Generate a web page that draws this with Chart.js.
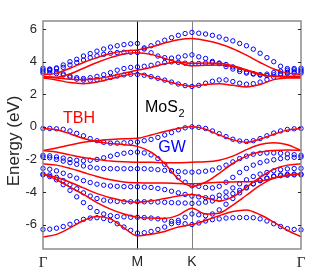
<!DOCTYPE html>
<html><head><meta charset="utf-8">
<script src="https://cdn.jsdelivr.net/npm/chart.js@4/dist/chart.umd.min.js"></script>
<style>html,body{margin:0;padding:0;background:#fff}#c{display:block}</style>
</head><body>
<canvas id="c" width="332" height="280"></canvas>
<script>
// k-path nodes (Γ-M-K-Γ, hexagonal BZ lengths) and their labels
const kNodes = [0, 0.5774, 0.9107, 1.5774];
const nodeLabels = ['Γ', 'M', 'K', 'Γ'];
const yTicks = [-6, -4, -2, 0, 2, 4, 6];
// number of k intervals per segment
const gwSteps = [14, 8, 16];
const tbSteps = [7, 4, 8];

// GW quasiparticle bands (eV), sampled on the GW k grid
const gwC1 = [3.3,3.32,3.27,3.18,3.05,2.93,2.87,2.86,2.89,2.95,3.03,3.12,3.19,3.23,3.22, 3.17,3.08,2.98,2.87,2.75,2.63,2.53,2.48, 2.55,2.68,2.8,2.88,2.88,2.78,2.68,2.62,2.65,2.75,2.9,3.05,3.2,3.28,3.3,3.3];
const gwC2 = [3.4,3.45,3.38,3.25,3.12,3.02,2.97,3.02,3.1,3.2,3.33,3.48,3.58,3.65,3.68, 3.72,3.78,3.87,3.95,3.99,3.96,3.91,3.88, 3.89,3.92,3.95,3.92,3.83,3.68,3.52,3.37,3.27,3.18,3.15,3.2,3.28,3.35,3.38,3.4];
const gwC3 = [3.5,3.52,3.57,3.65,3.8,3.95,4.1,4.25,4.36,4.45,4.52,4.56,4.58,4.58,4.57, 4.78,4.98,5.15,5.32,5.48,5.62,5.73,5.8, 5.75,5.7,5.62,5.52,5.38,5.28,5.12,4.98,4.77,4.52,4.25,4.0,3.72,3.58,3.58,3.6];
const gwC4 = [3.6,3.55,3.62,3.8,4.0,4.15,4.35,4.5,4.65,4.78,4.9,4.98,5.05,5.1,5.12, 4.85,4.55,4.35,4.25,4.22,4.28,4.36,4.42, 4.3,4.2,4.02,3.88,3.7,3.55,3.4,3.3,3.24,3.2,3.24,3.33,3.42,3.48,3.5,3.5];
const gwV1 = [-0.1,-0.1,-0.12,-0.15,-0.25,-0.4,-0.55,-0.72,-0.85,-0.95,-1.0,-1.0,-0.98,-0.95,-0.93, -0.85,-0.77,-0.65,-0.5,-0.35,-0.18,-0.06,0.0, -0.03,-0.1,-0.25,-0.42,-0.6,-0.76,-0.87,-0.9,-0.85,-0.72,-0.55,-0.38,-0.25,-0.16,-0.12,-0.1];
const gwV2 = [-1.75,-1.78,-1.85,-1.92,-2.0,-2.05,-2.08,-2.05,-2.0,-1.9,-1.8,-1.7,-1.62,-1.57,-1.55, -1.6,-1.72,-1.95,-2.3,-2.7,-3.1,-3.4,-3.62, -3.65,-3.72,-3.75,-3.65,-3.4,-3.1,-2.8,-2.55,-2.35,-2.2,-2.1,-2.02,-1.95,-1.9,-1.87,-1.85];
const gwV3 = [-1.85,-1.9,-2.0,-2.1,-2.2,-2.3,-2.4,-2.48,-2.53,-2.56,-2.57,-2.57,-2.57,-2.57,-2.57, -2.57,-2.6,-2.63,-2.67,-2.7,-2.74,-2.77,-2.78, -2.76,-2.72,-2.65,-2.52,-2.35,-2.15,-1.95,-1.8,-1.68,-1.62,-1.6,-1.6,-1.62,-1.66,-1.71,-1.75];
const gwV4 = [-2.55,-2.6,-2.7,-2.85,-3.0,-3.15,-3.3,-3.42,-3.52,-3.58,-3.63,-3.65,-3.67,-3.68,-3.68, -3.7,-3.72,-3.78,-3.85,-3.95,-4.05,-4.15,-4.25, -4.3,-4.35,-4.32,-4.2,-4.0,-3.75,-3.5,-3.25,-3.05,-2.9,-2.8,-2.7,-2.63,-2.58,-2.56,-2.55];
const gwV5 = [-2.9,-2.95,-3.1,-3.3,-3.55,-3.8,-4.05,-4.25,-4.4,-4.5,-4.55,-4.58,-4.6,-4.6,-4.6, -4.6,-4.6,-4.62,-4.63,-4.65,-4.67,-4.68,-4.7, -4.68,-4.62,-4.55,-4.45,-4.3,-4.1,-3.9,-3.7,-3.5,-3.3,-3.15,-3.02,-2.95,-2.92,-2.9,-2.9];
const gwV6 = [-2.95,-3.05,-3.25,-3.55,-3.9,-4.3,-4.65,-4.95,-5.2,-5.35,-5.45,-5.5,-5.53,-5.55,-5.55, -5.57,-5.6,-5.65,-5.72,-5.8,-5.88,-5.95,-6.0, -5.9,-5.78,-5.7,-5.65,-5.6,-5.58,-5.57,-5.57,-5.58,-5.65,-5.78,-5.95,-6.12,-6.25,-6.3,-6.32];
const gwV7 = [-6.3,-6.28,-6.22,-6.12,-5.98,-5.82,-5.68,-5.6,-5.58,-5.63,-5.75,-5.95,-6.15,-6.35,-6.52, -6.5,-6.42,-6.3,-6.15,-5.95,-5.75,-5.55,-5.35, -5.4,-5.45,-5.35,-5.1,-4.75,-4.4,-4.05,-3.75,-3.5,-3.3,-3.15,-3.05,-3.0,-2.97,-2.95,-2.95];

// tight-binding (TBH) bands (eV), sampled on the coarser TB k grid
const tbC1 = [3.0,2.88,2.72,2.65,2.75,2.95,3.15,3.27, 3.08,2.85,2.62,2.49, 2.6,2.65,2.55,2.45,2.6,2.9,3.0,3.0];
const tbC2 = [3.05,3.0,2.92,2.9,2.95,3.1,3.3,3.48, 3.65,3.88,3.98,3.9, 3.92,3.9,3.75,3.5,3.25,3.1,3.05,3.05];
const tbC3 = [3.1,3.05,3.25,3.6,3.95,4.25,4.48,4.55, 4.45,4.2,3.95,3.75, 3.78,3.8,3.7,3.45,3.2,3.12,3.1,3.1];
const tbC4 = [3.2,3.3,3.6,3.95,4.25,4.5,4.65,4.72, 4.9,5.15,5.35,5.43, 5.3,5.1,4.8,4.4,3.95,3.55,3.3,3.22];
const tbV1 = [-0.1,-0.18,-0.42,-0.72,-0.92,-1.02,-1.1,-1.2, -1.55,-2.25,-3.2,-3.65, -3.4,-2.85,-2.25,-1.8,-1.55,-1.45,-1.42,-1.45];
const tbV2 = [-1.45,-1.3,-1.12,-0.95,-0.85,-0.78,-0.73,-0.7, -0.5,-0.28,-0.1,0.0, -0.15,-0.5,-0.8,-0.95,-0.75,-0.45,-0.2,-0.1];
const tbV3 = [-1.45,-1.55,-1.72,-1.88,-2.0,-2.1,-2.15,-2.17, -2.18,-2.2,-2.2,-2.17, -2.15,-2.05,-1.8,-1.4,-1.08,-0.98,-1.1,-1.45];
const tbV4 = [-2.27,-2.35,-2.55,-2.8,-3.05,-3.25,-3.38,-3.43, -3.45,-3.45,-3.48,-3.5, -3.45,-3.4,-3.38,-3.37,-3.33,-3.15,-2.98,-2.9];
const tbV5 = [-2.9,-3.1,-3.4,-3.75,-4.1,-4.35,-4.55,-4.63, -4.55,-4.4,-4.25,-4.15, -4.35,-4.55,-4.3,-3.7,-3.1,-2.6,-2.35,-2.27];
const tbV6 = [-2.9,-3.25,-3.7,-4.15,-4.65,-5.05,-5.35,-5.55, -5.6,-5.62,-5.42,-5.0, -5.35,-5.3,-4.8,-4.2,-3.6,-3.15,-2.95,-2.9];
const tbV7 = [-6.76,-6.6,-6.2,-5.75,-5.5,-5.65,-6.2,-6.7, -6.6,-6.42,-6.15,-6.0, -5.75,-5.45,-5.2,-5.1,-5.4,-5.85,-6.35,-6.75];

const gwBands = [gwC1,gwC2,gwC3,gwC4,gwV1,gwV2,gwV3,gwV4,gwV5,gwV6,gwV7];
const tbBands = [tbC1,tbC2,tbC3,tbC4,tbV1,tbV2,tbV3,tbV4,tbV5,tbV6,tbV7];

// uniform k grid along each path segment
function kGrid(steps) {
  const k = [kNodes[0]];
  for (let s = 0; s < steps.length; s++) {
    const a = kNodes[s], b = kNodes[s + 1];
    for (let i = 1; i <= steps[s]; i++) k.push(a + (b - a) * i / steps[s]);
  }
  return k;
}
const kGW = kGrid(gwSteps);
const kTB = kGrid(tbSteps);

const RED = '#ff0000', BLUE = '#0000ff';
const datasets = [];
tbBands.forEach(b => datasets.push({
  data: b.map((v, i) => ({x: kTB[i], y: v})),
  showLine: true, borderColor: RED, borderWidth: 1.5, pointRadius: 0,
  cubicInterpolationMode: 'monotone', fill: false
}));
gwBands.forEach(b => datasets.push({
  data: b.map((v, i) => ({x: kGW[i], y: v})),
  showLine: false, pointRadius: 2.2, pointStyle: 'circle',
  borderColor: BLUE, borderWidth: 1, backgroundColor: 'rgba(0,0,0,0)', clip: 4
}));

const SANS = '"Liberation Sans", Arial, sans-serif';
const frame = {
  id: 'frame',
  beforeDatasetsDraw(c) {
    const {ctx, chartArea: a, scales: {x}} = c;
    ctx.save();
    ctx.lineWidth = 1;
    const xm = Math.round(x.getPixelForValue(kNodes[1])) + 0.5;
    const xk = Math.round(x.getPixelForValue(kNodes[2])) + 0.5;
    ctx.strokeStyle = '#000';
    ctx.beginPath(); ctx.moveTo(xm, a.top); ctx.lineTo(xm, a.bottom); ctx.stroke();
    ctx.strokeStyle = '#808080';
    ctx.beginPath(); ctx.moveTo(xk, a.top); ctx.lineTo(xk, a.bottom); ctx.stroke();
    ctx.restore();
  },
  afterDatasetsDraw(c) {
    const {ctx, chartArea: a, scales: {x, y}} = c;
    ctx.save();
    ctx.strokeStyle = '#8c8c8c';
    ctx.lineWidth = 1.5;
    ctx.strokeRect(a.left, a.top, a.right - a.left, a.bottom - a.top);
    ctx.lineWidth = 1;
    ctx.strokeStyle = '#262626';
    yTicks.forEach(v => {
      const py = Math.round(y.getPixelForValue(v)) + 0.5;
      ctx.beginPath();
      ctx.moveTo(a.left, py); ctx.lineTo(a.left + 3, py);
      ctx.moveTo(a.right, py); ctx.lineTo(a.right - 3, py);
      ctx.stroke();
    });
    // annotations
    ctx.textBaseline = 'alphabetic';
    ctx.fillStyle = '#000';
    ctx.font = '16px ' + SANS;
    ctx.textAlign = 'left';
    const mx = x.getPixelForValue(0.6236), my = y.getPixelForValue(0.91);
    ctx.fillText('MoS', mx, my);
    const w = ctx.measureText('MoS').width;
    ctx.font = '11px ' + SANS;
    ctx.fillText('2', mx + w + 0.5, my + 5);
    ctx.textAlign = 'center';
    ctx.font = '16px ' + SANS;
    ctx.fillStyle = RED;
    ctx.fillText('TBH', x.getPixelForValue(0.2201), y.getPixelForValue(0.237));
    ctx.fillStyle = BLUE;
    ctx.fillText('GW', x.getPixelForValue(0.7887), y.getPixelForValue(-1.544));
    // y title
    ctx.fillStyle = '#262626';
    ctx.font = '17px ' + SANS;
    ctx.translate(14, (a.top + a.bottom) / 2 + 6);
    ctx.rotate(-Math.PI / 2);
    ctx.textBaseline = 'middle';
    ctx.fillText('Energy (eV)', 0, 0);
    ctx.restore();
  }
};

new Chart(document.getElementById('c'), {
  type: 'scatter',
  data: {datasets},
  options: {
    responsive: false, animation: false, devicePixelRatio: 1,
    layout: {padding: {top: 21, right: 31, left: 0, bottom: 0}},
    plugins: {legend: {display: false}, tooltip: {enabled: false}},
    scales: {
      x: {
        type: 'linear', min: kNodes[0], max: kNodes[3],
        afterFit: s => { s.height = 31; },
        afterBuildTicks: s => { s.ticks = kNodes.map(v => ({value: v})); },
        ticks: {
          autoSkip: false, maxRotation: 0, padding: 5, color: '#262626',
          callback: (v, i) => nodeLabels[i],
          font: ctx => (ctx.index === 0 || ctx.index === 3)
            ? {family: '"Liberation Serif", "Times New Roman", serif', size: 15}
            : {family: SANS, size: 14}
        },
        grid: {display: false, drawTicks: false}, border: {display: false}
      },
      y: {
        type: 'linear', min: -7.5, max: 6.5,
        afterFit: s => { s.width = 43; },
        afterBuildTicks: s => { s.ticks = yTicks.map(v => ({value: v})); },
        ticks: {padding: 6, color: '#262626', font: {family: SANS, size: 13}},
        grid: {display: false, drawTicks: false}, border: {display: false}
      }
    }
  },
  plugins: [frame]
});
</script>
</body></html>
